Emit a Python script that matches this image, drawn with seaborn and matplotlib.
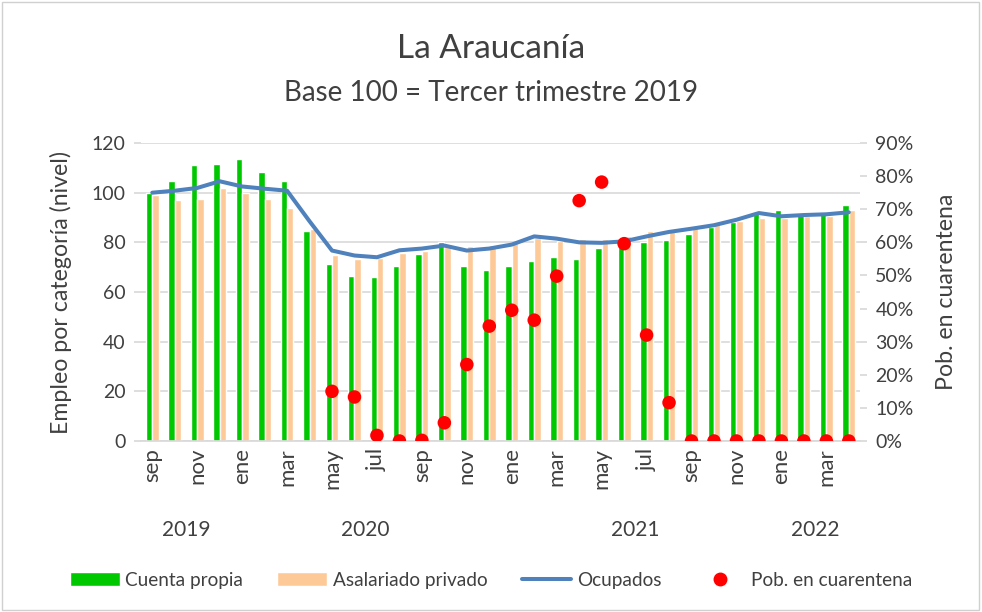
import numpy as np
import pandas as pd
import matplotlib.pyplot as plt
import seaborn as sns
from matplotlib.lines import Line2D
from matplotlib.patches import Patch, Rectangle
import matplotlib.transforms as mtransforms

sns.set_theme(style="white")
plt.rcParams["font.family"] = ["Lato", "DejaVu Sans"]

# --- Data ---
meses = ["sep", "oct", "nov", "dic",
         "ene", "feb", "mar", "abr", "may", "jun", "jul", "ago", "sep", "oct", "nov", "dic",
         "ene", "feb", "mar", "abr", "may", "jun", "jul", "ago", "sep", "oct", "nov", "dic",
         "ene", "feb", "mar", "abr"]
anios = [2019] * 4 + [2020] * 12 + [2021] * 12 + [2022] * 4

cuenta_propia = [100.0, 104.8, 111.3, 111.5, 113.5, 108.2, 104.6, 84.5, 71.4, 66.4, 66.1, 70.4,
                 75.5, 80.2, 70.6, 68.8, 70.4, 72.3, 73.9, 73.2, 77.6, 78.2, 80.0, 81.1,
                 83.5, 86.2, 88.0, 92.1, 92.9, 91.8, 92.4, 95.2]
asalariado = [99.2, 96.9, 97.5, 101.9, 99.7, 97.5, 94.0, 85.4, 74.8, 73.3, 73.7, 75.7,
              76.4, 78.2, 78.7, 79.1, 79.8, 81.8, 80.7, 81.4, 81.5, 82.7, 84.6, 85.4,
              86.7, 88.0, 88.5, 89.8, 89.8, 90.5, 90.8, 93.2]
ocupados = [100.0, 100.8, 101.9, 104.6, 102.5, 101.6, 100.8, 88.5, 76.7, 74.7, 74.0, 76.8,
            77.5, 78.7, 76.7, 77.5, 79.1, 82.4, 81.5, 80.0, 79.8, 80.4, 82.4, 84.2,
            85.5, 86.9, 89.1, 91.8, 90.5, 91.0, 91.3, 92.1]
cuarentena = [np.nan] * 8 + [0.150, 0.133, 0.017, 0.000, 0.002, 0.055, 0.231, 0.347,
                             0.395, 0.365, 0.498, 0.726, 0.782, 0.596, 0.320, 0.116,
                             0.0, 0.0, 0.0, 0.0, 0.0, 0.0, 0.0, 0.0]

GREEN = "#00c800"
PEACH = "#fdca97"
BLUE = "#4f81bd"
RED = "#ff0000"
TXT = "#404040"
GRID = "#d9d9d9"

df = pd.DataFrame({"i": range(len(meses)), "mes": meses, "anio": anios,
                   "Cuenta propia": cuenta_propia, "Asalariado privado": asalariado,
                   "Ocupados": ocupados, "cuarentena": cuarentena})
long = df.melt(id_vars="i", value_vars=["Cuenta propia", "Asalariado privado"],
               var_name="serie", value_name="valor")

# --- Figure ---
fig = plt.figure(figsize=(9.82, 6.12), dpi=100)
ax = fig.add_axes([0.1436, 0.2794, 0.7322, 0.4869])

sns.barplot(data=long, x="i", y="valor", hue="serie",
            palette={"Cuenta propia": GREEN, "Asalariado privado": PEACH},
            width=0.57, saturation=1, legend=False, ax=ax, zorder=2)
sns.lineplot(data=df, x="i", y="Ocupados", color=BLUE, linewidth=2.9, ax=ax, zorder=3)

ax.set_ylim(0, 120)
ax.set_xlim(-0.5, len(meses) - 0.5)
ax.set_yticks(range(0, 121, 20))
ax.yaxis.grid(True, color=GRID, linewidth=1.2)
ax.set_axisbelow(True)
for s in ["top", "right", "left"]:
    ax.spines[s].set_visible(False)
ax.spines["bottom"].set_color(GRID)
ax.set_xticks(range(0, len(meses), 2))
ax.set_xticklabels(meses[::2], rotation=90, fontsize=16, color=TXT)
ax.tick_params(axis="x", length=0, pad=5)
ax.tick_params(axis="y", length=5, color=GRID, labelsize=14, labelcolor=TXT, pad=6)
ax.set_xlabel("")
ax.set_ylabel("Empleo por categoría (nivel)", fontsize=16.7, color=TXT, labelpad=14)

# --- Secondary axis: quarantine share ---
ax2 = ax.twinx()
sns.scatterplot(data=df, x="i", y="cuarentena", color=RED, s=95, edgecolor="none",
                ax=ax2, zorder=4)
ax2.set_ylim(0, 0.9)
ax2.set_yticks(np.arange(0, 0.91, 0.1))
ax2.set_yticklabels([f"{int(round(v * 100))}%" for v in np.arange(0, 0.91, 0.1)])
ax2.tick_params(axis="y", length=5, color=GRID, labelsize=14, labelcolor=TXT, pad=6)
ax2.set_ylabel("Pob. en cuarentena", fontsize=16.7, color=TXT, labelpad=16)
ax2.grid(False)
for s in ax2.spines.values():
    s.set_visible(False)
ax2.set_xlim(ax.get_xlim())

# --- Year labels centred under each year group ---
trans = mtransforms.blended_transform_factory(ax.transData, ax.transAxes)
for anio, grp in df.groupby("anio"):
    ax.text(grp["i"].mean(), -0.30, str(anio), transform=trans, ha="center",
            va="center", fontsize=15, color=TXT)

# --- Titles ---
fig.text(0.5, 0.920, "La Araucanía", ha="center", va="center", fontsize=24, color=TXT)
fig.text(0.5, 0.848, "Base 100 = Tercer trimestre 2019", ha="center", va="center",
         fontsize=20, color=TXT)

# --- Legend ---
handles = [Patch(facecolor=GREEN), Patch(facecolor=PEACH),
           Line2D([], [], color=BLUE, linewidth=2.9),
           Line2D([], [], color=RED, marker="o", linestyle="none", markersize=9)]
labels = ["Cuenta propia", "Asalariado privado", "Ocupados", "Pob. en cuarentena"]
fig.legend(handles, labels, loc="center", bbox_to_anchor=(0.5, 0.052), ncol=4,
           frameon=False, fontsize=13.7, handlelength=2.6, handleheight=0.8,
           columnspacing=1.8, handletextpad=0.3, labelcolor=TXT)

# chart-area border
fig.patches.append(Rectangle((0.002, 0.003), 0.995, 0.993, transform=fig.transFigure,
                             fill=False, edgecolor="#d0d0d0", linewidth=1))

fig.savefig("out.png", dpi=100)
